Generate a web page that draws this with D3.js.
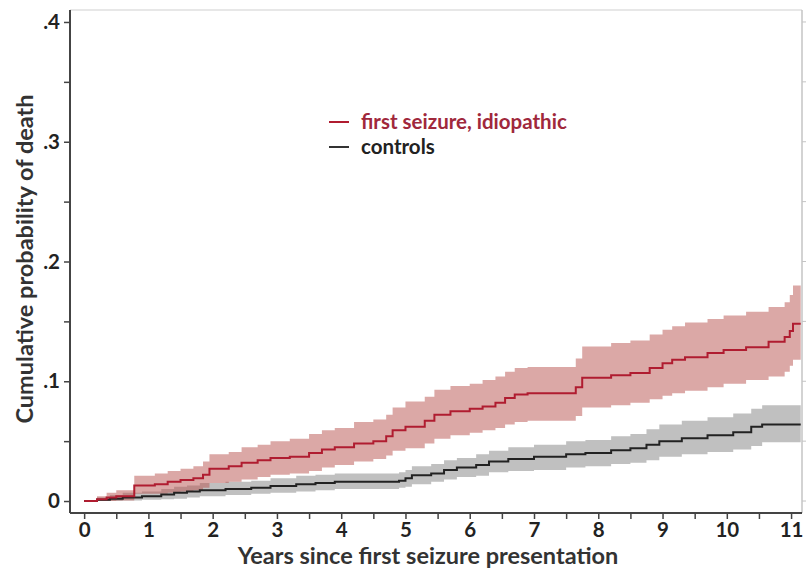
<!DOCTYPE html>
<html>
<head>
<meta charset="utf-8">
<script src="https://cdn.jsdelivr.net/npm/d3@7"></script>
<style>
  body { margin: 0; background: #fff; }
  svg text { font-family: Lato, "Open Sans", sans-serif; font-weight: bold; }
</style>
</head>
<body>
<svg id="chart" width="806" height="572"></svg>
<script>
// Kaplan-Meier style cumulative mortality
var seizureTime = [0, 0.2, 0.35, 0.5, 0.78, 1.1, 1.3, 1.5, 1.7, 1.85, 1.95, 2.25, 2.45, 2.7, 2.9, 3.2, 3.5, 3.7, 3.9, 4.2, 4.5, 4.7, 4.8, 5.0, 5.3, 5.45, 5.7, 6.0, 6.2, 6.4, 6.55, 6.7, 6.9, 7.65, 7.75, 8.2, 8.5, 8.8, 9.0, 9.15, 9.35, 9.7, 9.95, 10.3, 10.65, 10.9, 10.98, 11.03];
var seizureEst  = [0, 0.0015, 0.003, 0.004, 0.013, 0.014, 0.016, 0.0175, 0.019, 0.022, 0.027, 0.029, 0.032, 0.034, 0.036, 0.037, 0.040, 0.043, 0.045, 0.048, 0.050, 0.054, 0.059, 0.062, 0.067, 0.072, 0.075, 0.077, 0.079, 0.082, 0.086, 0.089, 0.090, 0.095, 0.103, 0.105, 0.107, 0.111, 0.115, 0.118, 0.120, 0.1235, 0.126, 0.1285, 0.133, 0.137, 0.142, 0.148];
var seizureLo   = [0, 0, 0, 0.0005, 0.006, 0.006, 0.007, 0.008, 0.009, 0.011, 0.015, 0.016, 0.018, 0.020, 0.022, 0.023, 0.025, 0.028, 0.030, 0.033, 0.035, 0.038, 0.042, 0.044, 0.048, 0.052, 0.055, 0.057, 0.059, 0.061, 0.064, 0.066, 0.067, 0.071, 0.078, 0.080, 0.082, 0.085, 0.088, 0.090, 0.092, 0.095, 0.098, 0.101, 0.104, 0.108, 0.113, 0.118];
var seizureHi   = [0, 0.004, 0.007, 0.009, 0.021, 0.023, 0.025, 0.027, 0.029, 0.033, 0.039, 0.041, 0.045, 0.047, 0.050, 0.052, 0.056, 0.059, 0.061, 0.066, 0.068, 0.072, 0.078, 0.083, 0.087, 0.093, 0.096, 0.098, 0.101, 0.104, 0.108, 0.111, 0.112, 0.119, 0.129, 0.132, 0.134, 0.139, 0.143, 0.146, 0.149, 0.152, 0.155, 0.158, 0.162, 0.166, 0.172, 0.180];

var controlTime = [0, 0.2, 0.4, 0.6, 0.9, 1.2, 1.4, 1.6, 1.8, 2.2, 2.6, 2.9, 3.3, 3.6, 3.9, 4.9, 5.0, 5.1, 5.4, 5.6, 5.8, 6.1, 6.3, 6.6, 7.0, 7.5, 7.8, 8.2, 8.5, 8.75, 8.95, 9.3, 9.7, 10.1, 10.38, 10.55];
var controlEst  = [0, 0.001, 0.002, 0.003, 0.004, 0.0055, 0.007, 0.008, 0.009, 0.010, 0.011, 0.0125, 0.014, 0.015, 0.016, 0.017, 0.019, 0.0215, 0.023, 0.026, 0.028, 0.030, 0.033, 0.035, 0.037, 0.039, 0.040, 0.0425, 0.044, 0.047, 0.050, 0.0525, 0.055, 0.0575, 0.062, 0.064];
var controlLo   = [0, 0, 0, 0.0005, 0.001, 0.0015, 0.002, 0.003, 0.004, 0.005, 0.006, 0.007, 0.008, 0.009, 0.010, 0.011, 0.012, 0.014, 0.016, 0.018, 0.020, 0.021, 0.024, 0.025, 0.026, 0.028, 0.029, 0.031, 0.032, 0.034, 0.037, 0.039, 0.041, 0.043, 0.046, 0.049];
var controlHi   = [0, 0.003, 0.005, 0.007, 0.008, 0.010, 0.012, 0.013, 0.015, 0.016, 0.017, 0.019, 0.021, 0.022, 0.023, 0.024, 0.026, 0.029, 0.031, 0.034, 0.036, 0.039, 0.042, 0.045, 0.047, 0.050, 0.051, 0.054, 0.056, 0.060, 0.064, 0.067, 0.070, 0.073, 0.077, 0.080];

var followUpEnd = 11.15;
var yTicks = [0, 0.05, 0.1, 0.15, 0.2, 0.25, 0.3, 0.35, 0.4];
var xTicks = d3.range(0, 11.01, 0.5);
var legendLabels = ["first seizure, idiopathic", "controls"];

var svg = d3.select("#chart");
var x = d3.scaleLinear().domain([-0.22, 11.17]).range([70, 802]);
var y = d3.scaleLinear().domain([-0.01, 0.41]).range([513, 10]);

function toRows(t, est, lo, hi) {
  var rows = t.map(function(v, i){ return {t: v, est: est[i], lo: lo[i], hi: hi[i]}; });
  var last = rows[rows.length - 1];
  rows.push({t: followUpEnd, est: last.est, lo: last.lo, hi: last.hi});
  return rows;
}
var seizure = toRows(seizureTime, seizureEst, seizureLo, seizureHi);
var controls = toRows(controlTime, controlEst, controlLo, controlHi);

var band = d3.area().curve(d3.curveStepAfter)
  .x(function(d){ return x(d.t); })
  .y0(function(d){ return y(d.lo); })
  .y1(function(d){ return y(d.hi); });
var line = d3.line().curve(d3.curveStepAfter)
  .x(function(d){ return x(d.t); })
  .y(function(d){ return y(d.est); });

// light frame top and right
svg.append("line").attr("x1", 70).attr("x2", 802).attr("y1", 10).attr("y2", 10)
  .attr("stroke", "#cfcfcf").attr("stroke-width", 1);
svg.append("line").attr("x1", 802).attr("x2", 802).attr("y1", 10).attr("y2", 513)
  .attr("stroke", "#c4c4c4").attr("stroke-width", 1.5);
svg.selectAll("line.rtick").data(yTicks).enter().append("line")
  .attr("class", "rtick")
  .attr("x1", 802).attr("x2", 806)
  .attr("y1", function(d){ return y(d); }).attr("y2", function(d){ return y(d); })
  .attr("stroke", "#c4c4c4");

svg.append("path").datum(controls).attr("d", band)
  .attr("fill", "#9a9a9a").attr("opacity", 0.62);
svg.append("path").datum(seizure).attr("d", band)
  .attr("fill", "#b8524e").attr("opacity", 0.5);
svg.append("path").datum(controls).attr("d", line)
  .attr("fill", "none").attr("stroke", "#222").attr("stroke-width", 2);
svg.append("path").datum(seizure).attr("d", line)
  .attr("fill", "none").attr("stroke", "#b01c30").attr("stroke-width", 2);

// axes
var yAxis = d3.axisLeft(y).tickValues(yTicks).tickSize(6).tickSizeOuter(0).tickPadding(4)
  .tickFormat(function(d){
    var k = Math.round(d * 100);
    if (k % 10 !== 0) return "";
    return k === 0 ? "0" : "." + (k / 10);
  });
var gy = svg.append("g").attr("transform", "translate(70,0)").call(yAxis);

var xAxis = d3.axisBottom(x).tickValues(xTicks).tickSize(6).tickSizeOuter(0).tickPadding(3)
  .tickFormat(function(d){ return d % 1 === 0 ? d : ""; });
var gx = svg.append("g").attr("transform", "translate(0,513)").call(xAxis);

[gx, gy].forEach(function(g){
  g.select(".domain").attr("stroke", "#444").attr("stroke-width", 2);
  g.selectAll(".tick line").attr("stroke", "#444").attr("stroke-width", 1.5);
  g.selectAll(".tick text").attr("fill", "#222").style("font-size", "20.5px")
    .style("font-family", "Lato, sans-serif").style("font-weight", "bold");
});
gy.select(".domain").attr("d", "M0,10V513");
gx.select(".domain").attr("d", "M70,0H802");

svg.append("text").attr("x", 428).attr("y", 564).attr("text-anchor", "middle")
  .attr("fill", "#333").style("font-size", "23.5px")
  .text("Years since first seizure presentation");
svg.append("text").attr("transform", "translate(33,259) rotate(-90)").attr("text-anchor", "middle")
  .attr("fill", "#333").style("font-size", "23.5px")
  .text("Cumulative probability of death");

// legend
var legendColors = ["#b01c30", "#333"];
var textColors = ["#a0283c", "#222"];
var lg = svg.selectAll("g.legend").data(legendLabels).enter().append("g")
  .attr("class", "legend")
  .attr("transform", function(d, i){ return "translate(329," + (122 + i * 25) + ")"; });
lg.append("line").attr("x1", 0).attr("x2", 20)
  .attr("stroke", function(d, i){ return legendColors[i]; }).attr("stroke-width", 2);
lg.append("text").attr("x", 32).attr("y", 7)
  .attr("fill", function(d, i){ return textColors[i]; }).style("font-size", "20.5px")
  .text(function(d){ return d; });
</script>
</body>
</html>
